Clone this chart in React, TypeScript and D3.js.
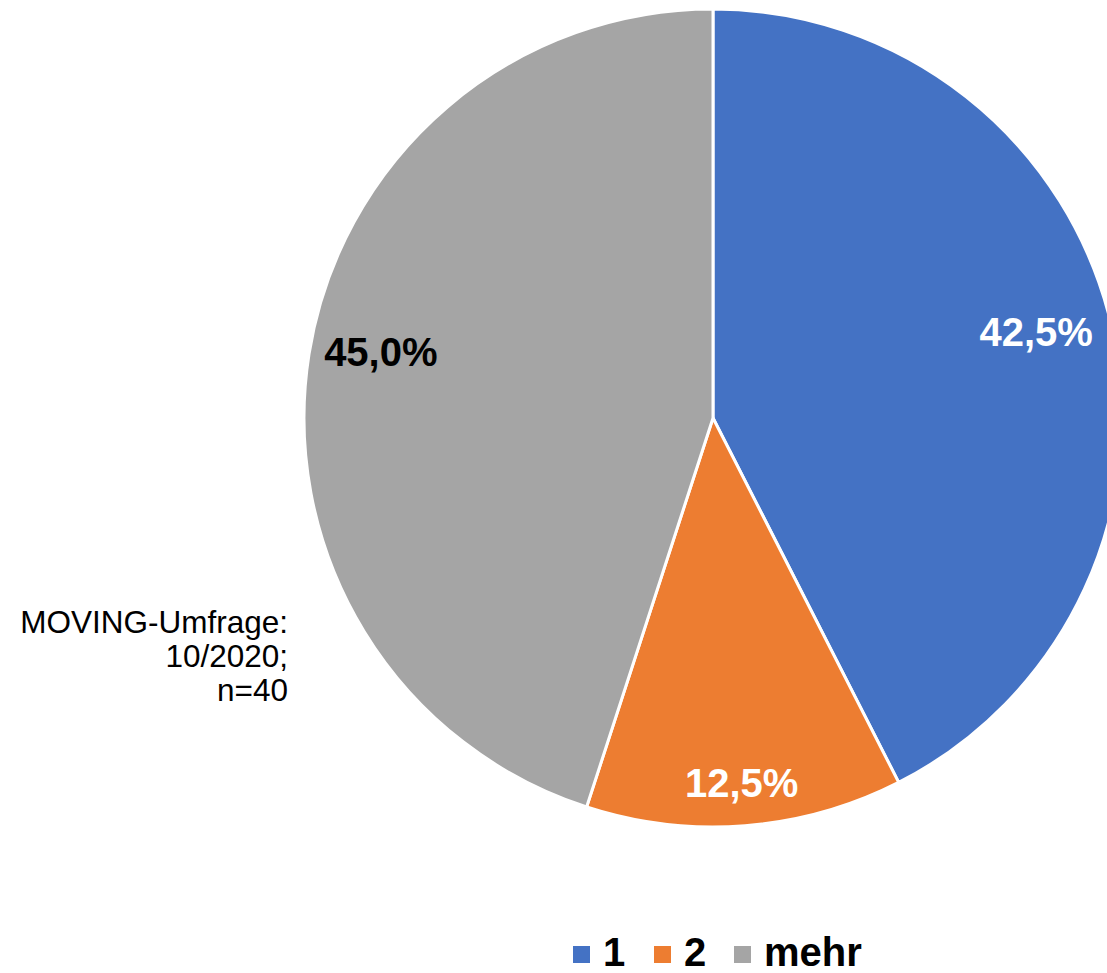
import React, { useRef, useEffect } from "react";
import * as d3 from "d3";

const categories = ["1", "2", "mehr"];
const values = [42.5, 12.5, 45.0];
const colors = ["#4472C4", "#ED7D31", "#A5A5A5"];
const labelColors = ["#ffffff", "#ffffff", "#000000"];
const noteLines = ["MOVING-Umfrage:", "10/2020;", "n=40"];

// nudges on top of the arc centroid (Excel "best fit" placement)
const labelNudge = [
  [5, -10],
  [3, 39],
  [-9, -15],
];

const width = 1107;
const height = 973;

const App = () => {
  const ref = useRef<SVGSVGElement>(null);

  useEffect(() => {
    const svg = d3.select(ref.current);
    svg.selectAll("*").remove();

    const cx = 713;
    const cy = 418;
    const radius = 409;

    const data = categories.map((c, i) => ({ cat: c, value: values[i], i }));

    const pie = d3
      .pie<any>()
      .sort(null)
      .value((d) => d.value);
    const arcs = pie(data);

    const arc = d3.arc<any>().innerRadius(0).outerRadius(radius);
    const labelArc = d3
      .arc<any>()
      .innerRadius(radius * 0.8)
      .outerRadius(radius * 0.8);

    const g = svg.append("g").attr("transform", `translate(${cx},${cy})`);

    g.selectAll("path")
      .data(arcs)
      .enter()
      .append("path")
      .attr("d", arc)
      .attr("fill", (d) => colors[d.data.i])
      .attr("stroke", "#ffffff")
      .attr("stroke-width", 3)
      .attr("stroke-linejoin", "round");

    // labels
    g.selectAll("text.lbl")
      .data(arcs)
      .enter()
      .append("text")
      .attr("class", "lbl")
      .attr("x", (d) => labelArc.centroid(d)[0] + labelNudge[d.data.i][0])
      .attr("y", (d) => labelArc.centroid(d)[1] + 14 + labelNudge[d.data.i][1])
      .attr("text-anchor", "middle")
      .attr("font-family", "Liberation Sans, Arial, sans-serif")
      .attr("font-weight", "bold")
      .attr("font-size", 40)
      .attr("fill", (d) => labelColors[d.data.i])
      .text((d) => d3.format(".1f")(d.data.value).replace(".", ",") + "%");

    // note
    const note = svg
      .append("text")
      .attr("text-anchor", "end")
      .attr("font-family", "Liberation Sans, Arial, sans-serif")
      .attr("font-size", 31.5)
      .attr("fill", "#000000");
    noteLines.forEach((line, i) => {
      note
        .append("tspan")
        .attr("x", 288)
        .attr("y", 633 + i * 34)
        .text(line);
    });

    // legend
    const legendX = [573, 654, 734];
    const legend = svg.append("g");
    categories.forEach((c, i) => {
      legend
        .append("rect")
        .attr("x", legendX[i])
        .attr("y", 946)
        .attr("width", 17)
        .attr("height", 17)
        .attr("fill", colors[i]);
      legend
        .append("text")
        .attr("x", legendX[i] + 30)
        .attr("y", 966)
        .attr("font-family", "Liberation Sans, Arial, sans-serif")
        .attr("font-weight", "bold")
        .attr("font-size", 40)
        .attr("fill", "#000000")
        .text(c);
    });
  }, []);

  return (
    <svg
      ref={ref}
      width={width}
      height={height}
      style={{ position: "absolute", left: 0, top: 0, background: "#ffffff" }}
    />
  );
};

export default App;
